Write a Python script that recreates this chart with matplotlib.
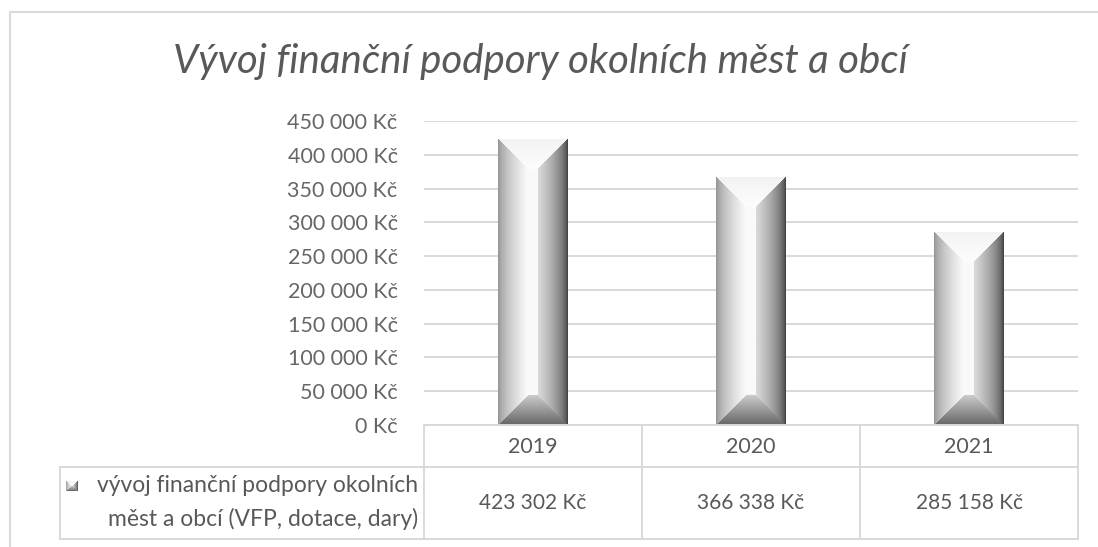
import numpy as np
import matplotlib
matplotlib.use("Agg")
import matplotlib.pyplot as plt
from matplotlib.ticker import FuncFormatter, MultipleLocator
from matplotlib.patches import Rectangle
from matplotlib.lines import Line2D

title = "Vývoj finanční podpory okolních měst a obcí"
categories = ["2019", "2020", "2021"]
values = [423302, 366338, 285158]
series_label = ["vývoj finanční podpory okolních", "měst a obcí (VFP, dotace, dary)"]

W, H = 1098, 547
plt.rcParams['font.family'] = ['Lato', 'DejaVu Sans']
fig = plt.figure(figsize=(W / 100, H / 100), dpi=100)
fig.patch.set_facecolor("white")

def fx(px):
    return px / W

def fy(py):
    return 1 - py / H

TXT = "#595959"
GRID = "#d9d9d9"

def kc(v, pos=None):
    return f"{v:,.0f}".replace(",", " ") + " Kč"

ax = fig.add_axes([fx(424), fy(425), fx(1078) - fx(424), fy(121) - fy(425)])
ax.set_xlim(-0.5, 2.5)
ax.set_ylim(0, 450000)
for s in ax.spines.values():
    s.set_visible(False)
ax.yaxis.set_major_locator(MultipleLocator(50000))
ax.yaxis.set_major_formatter(FuncFormatter(kc))
ax.yaxis.grid(True, color=GRID, lw=1.4)
ax.set_axisbelow(True)
ax.tick_params(axis='y', length=0, pad=19, labelsize=15.5, labelcolor="#666666")
ax.tick_params(axis='x', length=0, labelbottom=False)

x = np.arange(len(categories))
bars = ax.bar(x, values, width=0.32, facecolor='none', edgecolor='none', zorder=3)


def bevel_image(wpx, hpx, b=30, bv=30):
    U, V = np.meshgrid(np.arange(wpx) + 0.5, np.arange(hpx) + 0.5)
    dl = U / b
    dr = (wpx - U) / b
    dt = V / bv
    db = (hpx - V) / bv
    st = np.stack([dl, dr, dt, db])
    idx = np.argmin(st, axis=0)
    m = st.min(axis=0)
    left = 0.55 + 0.43 * np.clip(dl, 0, 1) ** 0.6
    right = 0.18 + 0.68 * np.clip(dr, 0, 1) ** 0.5
    top = 0.95 + 0.04 * np.clip(dt, 0, 1)
    bottom = 0.40 + 0.40 * np.clip(db, 0, 1)
    img = np.choose(idx, [left, right, top, bottom])
    cen = np.full_like(U, 0.98)
    img = np.where(m >= 1, cen, img)
    return img


fig.canvas.draw()
for bar in bars:
    x0, w, h = bar.get_x(), bar.get_width(), bar.get_height()
    p0 = ax.transData.transform((x0, 0))
    p1 = ax.transData.transform((x0 + w, h))
    wpx = int(round(p1[0] - p0[0]))
    hpx = int(round(p1[1] - p0[1]))
    img = bevel_image(wpx, hpx)
    ax.imshow(img, extent=(x0, x0 + w, 0, h), aspect='auto', cmap='gray',
              vmin=0, vmax=1, interpolation='bilinear', zorder=3)
ax.set_xlim(-0.5, 2.5)
ax.set_ylim(0, 450000)

# title
fig.text(fx(540), fy(62), title, ha='center', va='center', fontsize=29,
         style='italic', color=TXT)

# outer frame
fig.add_artist(Rectangle((fx(10), fy(560)), fx(1110) - fx(10), fy(12) - fy(560),
                         transform=fig.transFigure, fill=False, edgecolor=GRID, lw=1.5))

# data table
fig.canvas.draw()
bounds_px = [ax.transData.transform((c, 0))[0] for c in np.arange(len(categories) + 1) - 0.5]

def hline(y, xa, xb):
    fig.add_artist(Line2D([fx(xa), fx(xb)], [fy(y), fy(y)], transform=fig.transFigure,
                          color=GRID, lw=1.4))

def vline(xp, ya, yb):
    fig.add_artist(Line2D([fx(xp), fx(xp)], [fy(ya), fy(yb)], transform=fig.transFigure,
                          color=GRID, lw=1.4))

xl, xr = bounds_px[0], bounds_px[-1]
hline(425, xl, xr)
hline(467, 60, xr)
hline(539, 60, xr)
vline(60, 467, 539)
for b in bounds_px:
    vline(b, 425, 539)

for i, c in enumerate(categories):
    cx = (bounds_px[i] + bounds_px[i + 1]) / 2
    fig.text(fx(cx), fy(447), c, ha='center', va='center', fontsize=15.5, color=TXT)
    fig.text(fx(cx), fy(503), kc(values[i]), ha='center', va='center', fontsize=15, color=TXT)

fig.text(fx(418), fy(486), series_label[0], ha='right', va='center', fontsize=16.5, color=TXT)
fig.text(fx(418), fy(519), series_label[1], ha='right', va='center', fontsize=16.5, color=TXT)

# legend key
kax = fig.add_axes([fx(66), fy(491), fx(78) - fx(66), fy(481) - fy(491)])
kax.imshow(bevel_image(12, 10, b=6, bv=5), cmap='gray', vmin=0, vmax=1, aspect='auto',
           interpolation='bilinear')
kax.axis('off')

fig.savefig("out.png", dpi=100, facecolor="white")
